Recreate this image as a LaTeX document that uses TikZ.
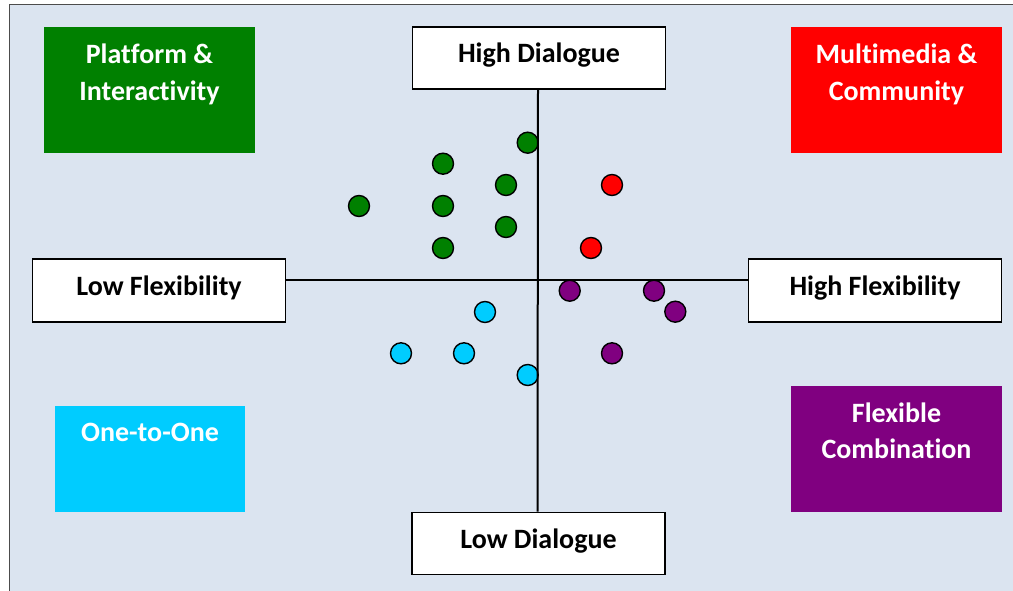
\documentclass[tikz,border=0pt]{standalone}
\usepackage{fontspec}
\setmainfont{Carlito}[Ligatures=NoCommon]
\usetikzlibrary{positioning}
\definecolor{bgblue}{RGB}{219,228,240}
\definecolor{qgreen}{RGB}{0,128,0}
\definecolor{qred}{RGB}{255,0,0}
\definecolor{qcyan}{RGB}{0,204,255}
\definecolor{qpurple}{RGB}{128,0,128}

\begin{document}
\begin{tikzpicture}[x=1pt,y=-1pt,
	axisbox/.style={draw=black, line width=1.6pt, fill=white, minimum width=253pt, minimum height=62pt,
		inner sep=0pt, text height=16pt, text depth=6pt, font=\fontsize{28}{36}\selectfont\bfseries},
	quadbox/.style={inner sep=0pt, minimum width=211pt, minimum height=126pt},
	quadtext/.style={text=white, align=center, inner sep=0pt, font=\fontsize{28}{36.5}\selectfont\bfseries},
	dot/.style={circle, draw=black, line width=1.4pt, minimum size=21pt, inner sep=0pt}]
\useasboundingbox (0,0) rectangle (1013,591);
\draw[line width=1.2pt, draw=black!70, fill=bgblue] (9.5,4.5) rectangle (1030,610);

% quadrant labels
\node[quadbox, fill=qgreen] (platform) at (149.5,90) {};
\node[quadbox, fill=qred] (multi) at (896.5,90) {};
\node[quadbox, fill=qcyan, minimum width=190pt, minimum height=105.5pt] (onetoone) at (150,459) {};
\node[quadbox, fill=qpurple] (flexcomb) at (896.5,448.5) {};
\node[quadtext, below=17pt of platform.north] (platformtxt) {Platform \&\\Interactivity};
\node[quadtext, below=17pt of multi.north] (multitxt) {Multimedia \&\\Community};
\node[quadtext, below=17pt of onetoone.north] (onetoonetxt) {One-to-One};
\node[quadtext, below=17pt of flexcomb.north] (flexcombtxt) {Flexible\\Combination};

% the cases
\foreach \x/\y [count=\i] in {527.7/142.7, 443/163.7, 506/185, 359/206, 443/206, 506/227, 443/248}
	\node[dot, fill=qgreen] (g\i) at (\x,\y) {};
\foreach \x/\y [count=\i] in {612/185, 591/248}
	\node[dot, fill=qred] (r\i) at (\x,\y) {};
\foreach \x/\y [count=\i] in {569.7/290.7, 654/290.7, 675.3/311.7, 612/353.3}
	\node[dot, fill=qpurple] (p\i) at (\x,\y) {};
\foreach \x/\y [count=\i] in {485/312, 401/353.3, 464/353.3, 527.7/375}
	\node[dot, fill=qcyan] (c\i) at (\x,\y) {};

% axes
\node[axisbox] (hidlg) at (539,58) {High Dialogue};
\node[axisbox] (lodlg) at (538.5,543.5) {Low Dialogue};
\node[axisbox, minimum height=63pt] (loflex) at (159,290.5) {Low Flexibility};
\node[axisbox, minimum height=63pt] (hiflex) at (875,290.5) {High Flexibility};
\draw[line width=2pt] ([xshift=-1pt]hidlg.south) -- ([xshift=-1pt]lodlg.north);
\draw[line width=2pt] ([yshift=10.5pt]loflex.east) -- ([yshift=10.5pt]hiflex.west);
\end{tikzpicture}
\end{document}
